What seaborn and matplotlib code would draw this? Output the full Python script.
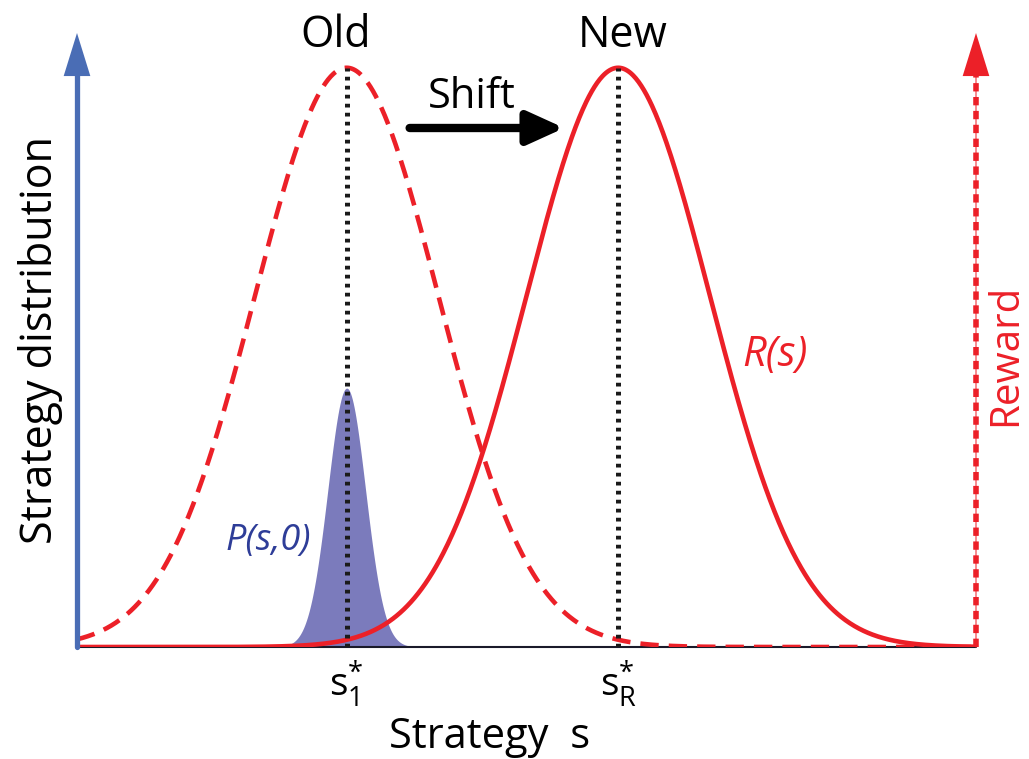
import numpy as np
import pandas as pd
import matplotlib.pyplot as plt
import seaborn as sns

# curve parameters (strategy axis 0..10)
curve_names = ['old reward', 'new reward', 'P(s,0)']
curve_centers = [3.0, 6.02, 3.0]
curve_widths = [1.02, 1.02, 0.21]
curve_peaks = [1.0, 1.0, 0.447]
tick_labels = [r'$\mathregular{s}^{*}_{\mathregular{1}}$', r'$\mathregular{s}^{*}_{\mathregular{R}}$']

red = '#ec2028'
blue = '#4a6db5'
fill_blue = '#7b7bbc'

s = np.linspace(0, 10, 1000)
rows = []
for name, c, w, p in zip(curve_names, curve_centers, curve_widths, curve_peaks):
    for si, v in zip(s, p * np.exp(-(s - c) ** 2 / (2 * w ** 2))):
        rows.append((name, si, v))
df = pd.DataFrame(rows, columns=['curve', 's', 'value'])

sns.set_style("white")
plt.rcParams['font.family'] = ['Open Sans', 'DejaVu Sans']
plt.rcParams['text.color'] = 'black'
plt.rcParams['mathtext.fontset'] = 'custom'
plt.rcParams['mathtext.rm'] = 'Open Sans'
plt.rcParams['mathtext.it'] = 'Open Sans:italic'

fig = plt.figure(figsize=(10.29, 7.59), dpi=100)
ax = fig.add_axes([77 / 1029, 1 - 647 / 759, 899 / 1029, 614 / 759])
ax.set_xlim(0, 10)
ax.set_ylim(0, 1.06)

p = df[df.curve == 'P(s,0)']
ax.fill_between(p.s, 0, p.value, color=fill_blue, lw=0, zorder=1)

sns.lineplot(data=df[df.curve == 'new reward'], x='s', y='value', color=red,
             lw=3.3, ax=ax, zorder=3)
old = df[df.curve == 'old reward']
ax.plot(old.s, old.value, color=red, lw=3.3, ls=(0, (4, 2.2)), zorder=3)

# dotted lines at the peaks
for c, pk in zip(curve_centers[:2], curve_peaks[:2]):
    ax.plot([c, c], [0, pk], color='#1a1a1a', lw=3.6, ls=(0, (0.75, 1.05)), zorder=4)

# baseline
ax.plot([0, 10], [0, 0], color='#1a1a2a', lw=1.5, zorder=2, clip_on=False)

# left blue axis arrow
ax.plot([0, 0], [0, 0.99], color=blue, lw=3.8, clip_on=False, zorder=5)
ax.annotate('', xy=(0, 1.06), xytext=(0, 0.98), xycoords='data',
            arrowprops=dict(arrowstyle='-|>,head_length=1.55,head_width=0.48',
                            color=blue, lw=0, mutation_scale=20, shrinkA=0, shrinkB=0),
            annotation_clip=False)

# right red dashed axis arrow
ax.plot([10, 10], [0, 0.99], color=red, lw=1.2, alpha=0.6, clip_on=False, zorder=5)
ax.plot([10, 10], [0, 0.99], color=red, lw=4, ls=(0, (1.5, 1)), clip_on=False, zorder=5)
ax.annotate('', xy=(10, 1.06), xytext=(10, 0.98), xycoords='data',
            arrowprops=dict(arrowstyle='-|>,head_length=1.55,head_width=0.48',
                            color=red, lw=0, mutation_scale=20, shrinkA=0, shrinkB=0),
            annotation_clip=False)

# shift arrow
ax.annotate('', xy=(5.42, 0.896), xytext=(3.7, 0.896),
            arrowprops=dict(arrowstyle='-|>,head_length=1.1,head_width=0.5',
                            color='black', lw=6, mutation_scale=20, shrinkA=0, shrinkB=0))
ax.text(4.39, 0.95, 'Shift', fontsize=30, ha='center', va='center')

ax.text(2.88, 1.055, 'Old', fontsize=31, ha='center', va='center', clip_on=False)
ax.text(6.07, 1.055, 'New', fontsize=31, ha='center', va='center', clip_on=False)
ax.text(7.76, 0.504, 'R(s)', fontsize=30, color=red, style='italic', ha='center', va='center')
ax.text(2.125, 0.183, 'P(s,0)', fontsize=26, color='#2e3d98', style='italic',
        ha='center', va='center')

ax.set_xticks(curve_centers[:2])
ax.set_xticklabels(tick_labels, fontsize=28)
ax.tick_params(axis='x', length=0, pad=8, colors='black')
ax.set_yticks([])
ax.set_xlabel('')
ax.set_ylabel('Strategy distribution', fontsize=31, labelpad=10, color='black')
fig.text(490 / 1029, 1 - 748 / 759, 'Strategy  s', fontsize=30, ha='center', va='baseline')
fig.text(1006 / 1029, 1 - 355 / 759, 'Reward', fontsize=29, color=red, rotation=90,
         ha='center', va='center')

for sp in ax.spines.values():
    sp.set_visible(False)

fig.savefig('out.png', dpi=100)
